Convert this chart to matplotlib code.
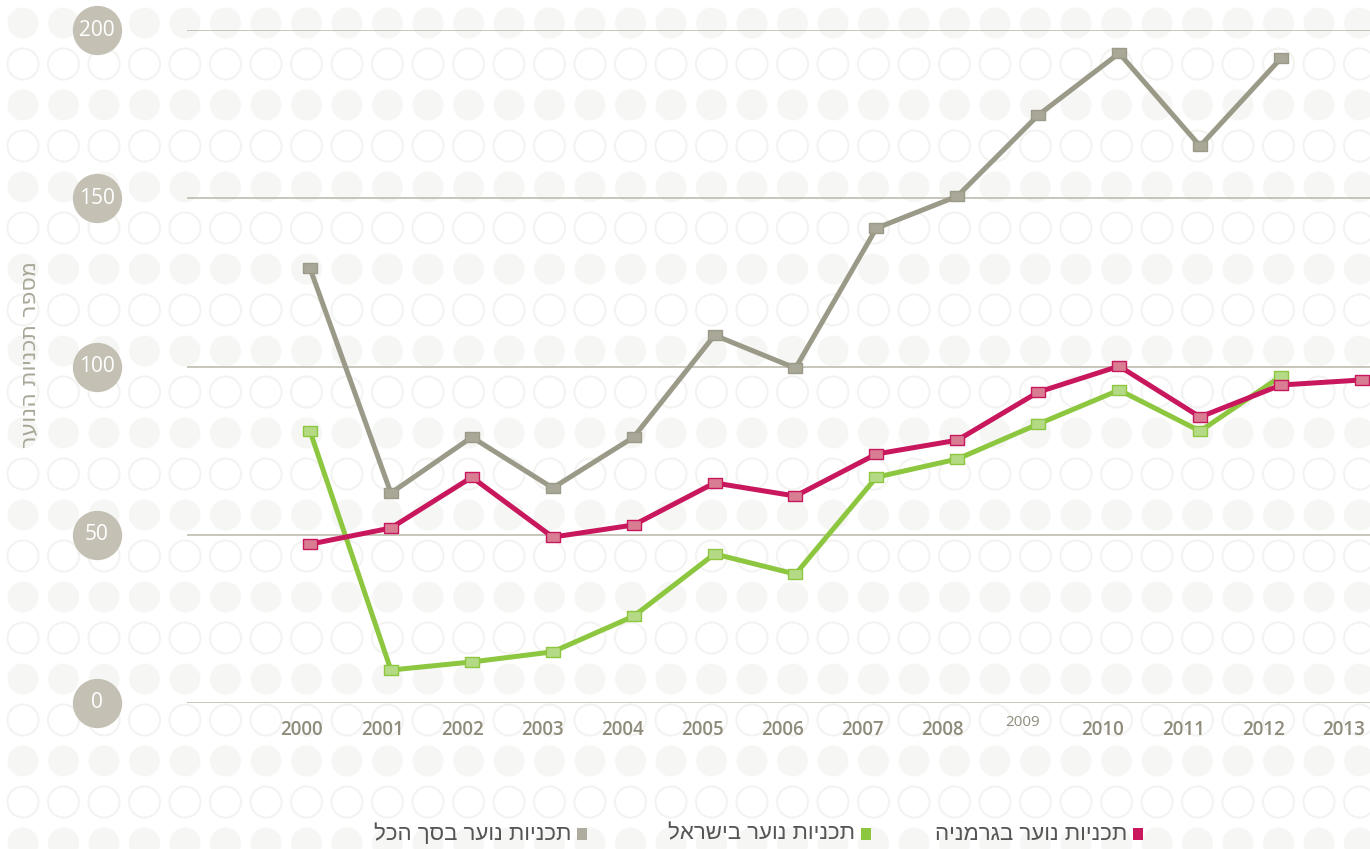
import matplotlib
matplotlib.use("Agg")
import matplotlib.pyplot as plt
import matplotlib.transforms as mtransforms
from matplotlib.patches import Circle, Rectangle

# ---------------- data ----------------
years = [2000, 2001, 2002, 2003, 2004, 2005, 2006, 2007, 2008, 2009, 2010, 2011, 2012, 2013]
year_labels = [str(y) for y in years]
total_vals = [129.2, 62.4, 79.0, 63.9, 79.0, 109.3, 99.5, 141.1, 150.6, 174.7, 193.1, 165.5, 191.6, None]
israel_vals = [80.8, 9.8, 12.2, 15.2, 25.8, 44.3, 38.3, 67.1, 72.5, 82.9, 93.0, 80.8, 97.1, None]
germany_vals = [47.2, 52.0, 67.1, 49.3, 52.9, 65.4, 61.5, 74.0, 78.1, 92.4, 100.1, 85.0, 94.5, 96.0]
y_ticks = [0, 50, 100, 150, 200]
legend_labels = ["תכניות נוער בגרמניה", "תכניות נוער בישראל", "תכניות נוער בסך הכל"]
y_title = "מספר תכניות הנוער"


def heb(s):
    return s[::-1]


def clean(xs, ys):
    px, py = [], []
    for x, y in zip(xs, ys):
        if y is not None:
            px.append(x)
            py.append(y)
    return px, py


W, H = 1370, 849
fig = plt.figure(figsize=(W / 100, H / 100), dpi=100)
fig.patch.set_facecolor("white")

# ---------------- background dots ----------------
bg = fig.add_axes([0, 0, 1, 1])
bg.set_xlim(0, W)
bg.set_ylim(H, 0)
bg.axis("off")
r = 15.5
for k in range(21):
    cy = 23 + 41 * k
    for j in range(35):
        cx = 23 + 40.5 * j
        if k % 2 == 0:
            bg.add_patch(Circle((cx, cy), r, facecolor="#f6f6f4", edgecolor="none"))
        else:
            bg.add_patch(Circle((cx, cy), r, facecolor="none", edgecolor="#f3f3f1", lw=1.5))

# ---------------- main axes ----------------
left_px, right_px = 187, 1370
top_px, bot_px = 30, 703
ax = fig.add_axes([left_px / W, (H - bot_px) / H, (right_px - left_px) / W, (bot_px - top_px) / H])
ax.patch.set_alpha(0)
ax.set_ylim(0, 200)
ax.set_xlim(1998.48, 2013.1)
for s in ax.spines.values():
    s.set_visible(False)
ax.set_yticks(y_ticks)
ax.set_yticklabels([])
ax.tick_params(axis="y", length=0)
ax.yaxis.grid(True, color="#b9b7a8", lw=1.1)
ax.set_axisbelow(True)

# year labels sit on a slightly tighter spacing than the points
tick_pos = [1999.9 + (y - years[0]) * 0.99 for y in years]
ax.set_xticks(tick_pos)
ax.set_xticklabels(year_labels)
ax.tick_params(axis="x", length=0, pad=12.5, labelsize=13.5, labelcolor="#8f8c7c")
for lab in ax.get_xticklabels():
    lab.set_fontfamily("Open Sans")
    lab.set_fontweight("semibold")
    if lab.get_text() == "2009":
        lab.set_fontsize(11)
        lab.set_fontweight("normal")
        lab.set_transform(lab.get_transform() + mtransforms.ScaledTranslation(0, 5 / 100, fig.dpi_scale_trans))

# y tick badges
tr = mtransforms.blended_transform_factory(ax.transAxes, ax.transData)
xb = (97 - left_px) / (right_px - left_px)
ax.scatter([xb] * len(y_ticks), y_ticks, s=34.5 ** 2, color="#c4c1b4", transform=tr, clip_on=False, zorder=3)
for v in y_ticks:
    ax.text(xb, v, str(v), transform=tr, ha="center", va="center", color="white",
            fontsize=15, family="Open Sans", clip_on=False, zorder=4)

# lines
rect_marker = [(-1, -0.72), (1, -0.72), (1, 0.72), (-1, 0.72), (-1, -0.72)]
series = [
    (total_vals, "#9b9a88", "#a9a898"),
    (israel_vals, "#8dc63f", "#b5da85"),
    (germany_vals, "#c8175d", "#d97d93"),
]
for vals, lc, mf in series:
    xs, ys = clean(years, vals)
    ax.plot(xs, ys, color=lc, lw=3.6, solid_joinstyle="miter", zorder=5, clip_on=False)
for vals, lc, mf in series:
    xs, ys = clean(years, vals)
    ax.plot(xs, ys, ls="none", marker=rect_marker, markersize=10.5, markerfacecolor=mf,
            markeredgecolor=lc, markeredgewidth=1.0, zorder=6, clip_on=False)

# y title
fig.text(30 / W, 1 - 355 / H, heb(y_title), rotation=90, ha="center", va="center",
         color="#a9a797", fontsize=16, family=["DejaVu Sans"])

# legend
leg_items = [
    (1138, "#c8175d", legend_labels[0]),
    (866, "#8dc63f", legend_labels[1]),
    (582, "#aeac9e", legend_labels[2]),
]
ly = 834
for sx, col, txt in leg_items:
    bg.add_patch(Rectangle((sx - 5, ly - 6), 10, 12, facecolor=col, edgecolor="none"))
    bg.text(sx - 11, ly, heb(txt), ha="right", va="center", color="#555555",
            fontsize=16, family=["Liberation Sans", "DejaVu Sans"])

fig.savefig("out.png", dpi=100)
